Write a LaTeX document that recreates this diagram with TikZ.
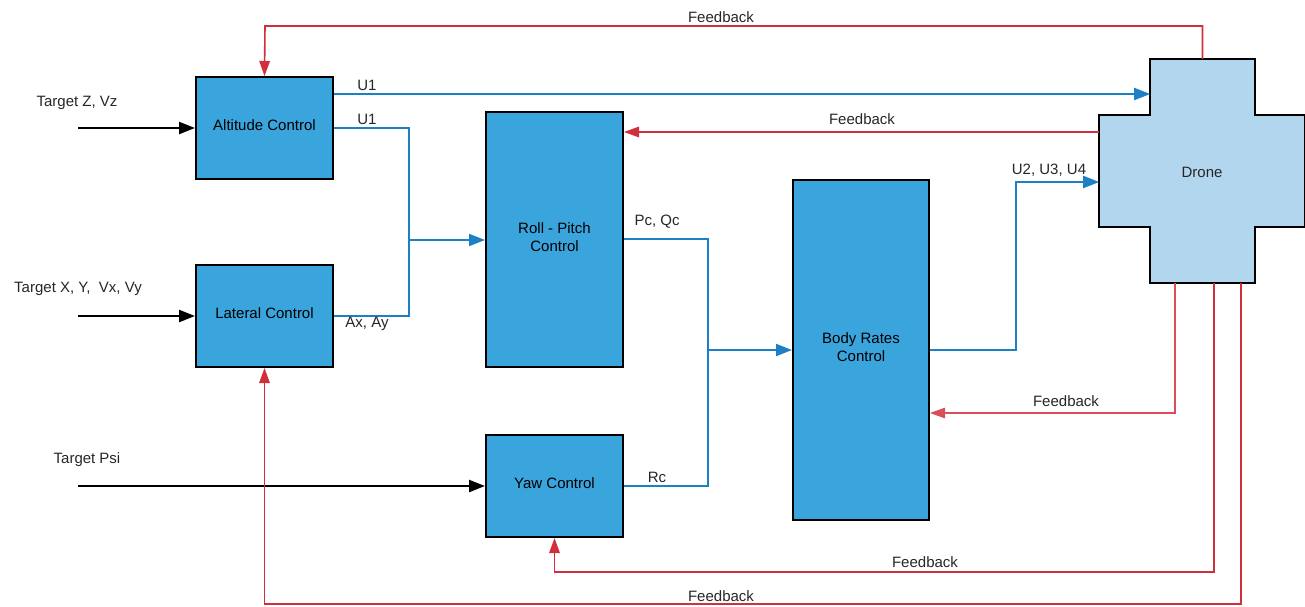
\documentclass[tikz,border=0pt]{standalone}
\usepackage{fontspec}
\setmainfont{Liberation Sans}
\usetikzlibrary{arrows.meta}
\definecolor{boxblue}{HTML}{3AA4DC}
\definecolor{dronefill}{HTML}{B3D6EF}
\definecolor{sigblue}{HTML}{1E80C4}
\definecolor{fbred}{HTML}{D22F3C}

\begin{document}
\begin{tikzpicture}[x=1pt, y=-1pt,
  font=\fontsize{15}{18}\selectfont,
  block/.style={draw=black, line width=2pt, fill=boxblue, inner sep=0pt,
                minimum width=137pt, align=center, text depth=5pt},
  part/.style={inner sep=0pt, outer sep=0.8pt},
  lbl/.style={inner sep=0pt, text=black!85},
  inarrow/.style={draw=black, line width=2.4pt, -{Triangle[length=16pt,width=12pt]}},
  sigline/.style={draw=sigblue, line width=2pt},
  sig/.style={sigline, -{Triangle[length=16pt,width=12pt]}},
  fb/.style={draw=fbred, line width=1.6pt, -{Triangle[length=15pt,width=10.5pt]}},
  fbthin/.style={fb, draw=fbred!85, line width=1.2pt}]

\useasboundingbox (0,0) rectangle (1305,606);

% controller blocks
\node[block, minimum height=102pt] (alt) at (264.5,128) {Altitude Control};
\node[block, minimum height=102pt] (lat) at (264.5,316) {Lateral Control};
\node[block, minimum height=255pt] (rp)  at (554.5,239.5) {Roll - Pitch\\Control};
\node[block, minimum height=102pt] (yaw) at (554.5,486) {Yaw Control};
\node[block, minimum width=136pt, minimum height=340pt] (br) at (861,350) {Body Rates\\Control};

% drone: cross-shaped outline built from two bars
\node[part, minimum width=103pt, minimum height=222pt] (dronev) at (1202.5,171) {};
\node[part, minimum width=204pt, minimum height=110pt] (droneh) at (1202,171) {};
\path[draw=black, line width=1.6pt, fill=dronefill]
  (dronev.north west) -- (dronev.north east) -- (dronev.east |- droneh.north)
  -- (droneh.north east) -- (droneh.south east) -- (dronev.east |- droneh.south)
  -- (dronev.south east) -- (dronev.south west) -- (dronev.west |- droneh.south)
  -- (droneh.south west) -- (droneh.north west) -- (dronev.west |- droneh.north) -- cycle;
\node[lbl] (dronetxt) at (1202,172) {Drone};

% setpoint inputs
\node[lbl] (tz) at (77,103) {Target Z, Vz};
\node[lbl] (txy) at (78,289) {Target X, Y,\ \ Vx, Vy};
\node[lbl] (tpsi) at (87,460) {Target Psi};
\coordinate (inz) at (78,128);
\coordinate (inxy) at (78,316);
\coordinate (inpsi) at (78,486);
\draw[inarrow] (inz) -- (alt.west);
\draw[inarrow] (inxy) -- (lat.west);
\draw[inarrow] (inpsi) -- (yaw.west);

% thrust command straight to the drone
\draw[sig] (alt.east |- 0,94) -- (dronev.west |- 0,94);
\node[lbl] (u1a) at (367,85) {U1};

% altitude + lateral into roll-pitch
\coordinate (j1) at (409,240);
\draw[sigline] (alt.east) -| (j1);
\draw[sigline] (lat.east) -| (j1);
\draw[sig] (j1) -- (rp.west |- j1);
\node[lbl] (u1b) at (367,119) {U1};
\node[lbl] (axay) at (367,324) {Ax, Ay};

% roll-pitch + yaw into body rates
\coordinate (j2) at (708,350);
\draw[sigline] (rp.east |- 0,239) -| (j2);
\draw[sigline] (yaw.east) -| (j2);
\draw[sig] (j2) -- (br.west |- j2);
\node[lbl] (pcqc) at (657,222) {Pc, Qc};
\node[lbl] (rc) at (657,477) {Rc};

% body rates to drone
\coordinate (b1) at (1016,182);
\draw[sig] (br.east) -| (b1) -- (droneh.west |- b1);
\node[lbl] (u234) at (1049,170) {U2, U3, U4};

% feedback paths
\coordinate (fbtop) at (265,26);
\draw[fb] (dronev.north) |- (fbtop) -- (alt.north);
\node[lbl] (fb1) at (721,17) {Feedback};

\draw[fb] (droneh.west |- 0,132) -- (rp.east |- 0,132);
\node[lbl] (fb2) at (862,119) {Feedback};

\coordinate (fbb) at (1175,413);
\draw[fbthin] (dronev.south -| fbb) -- (fbb) -- (br.east |- fbb);
\node[lbl] (fb3) at (1066,401) {Feedback};

\coordinate (fby) at (1214,572);
\draw[fb] (dronev.south -| fby) -- (fby) -| (yaw.south);
\node[lbl] (fb4) at (925,562) {Feedback};

\coordinate (fbl) at (1241,604);
\draw[fb] (dronev.south -| fbl) -- (fbl) -| (lat.south);
\node[lbl] (fb5) at (721,596) {Feedback};
\end{tikzpicture}
\end{document}
